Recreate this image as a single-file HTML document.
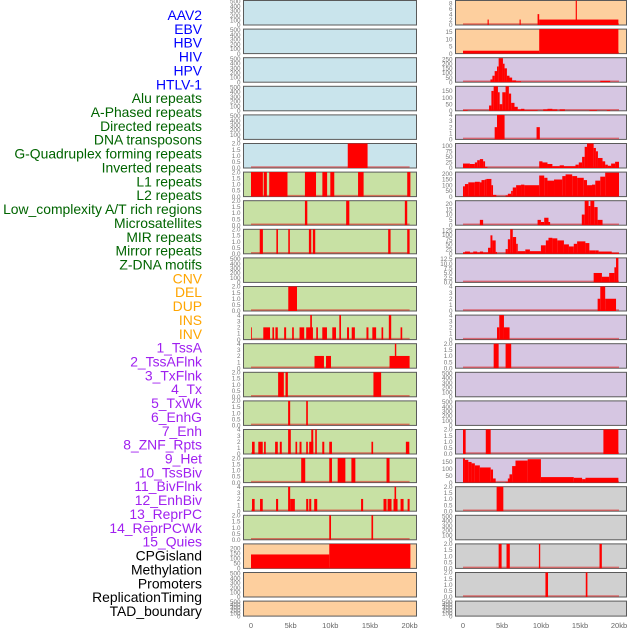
<!DOCTYPE html>
<html><head><meta charset="utf-8"><style>
html,body{margin:0;padding:0;background:#fff;width:630px;height:630px;overflow:hidden}
svg{display:block;font-family:"Liberation Sans",sans-serif}
</style></head><body>
<svg id="chart" width="630" height="630" viewBox="0 0 630 630"></svg>
<script>
// ---- data ----
const trackLabels = ["AAV2","EBV","HBV","HIV","HPV","HTLV-1","Alu repeats","A-Phased repeats","Directed repeats","DNA transposons","G-Quadruplex forming repeats","Inverted repeats","L1 repeats","L2 repeats","Low_complexity A/T rich regions","Microsatellites","MIR repeats","Mirror repeats","Z-DNA motifs","CNV","DEL","DUP","INS","INV","1_TssA","2_TssAFlnk","3_TxFlnk","4_Tx","5_TxWk","6_EnhG","7_Enh","8_ZNF_Rpts","9_Het","10_TssBiv","11_BivFlnk","12_EnhBiv","13_ReprPC","14_ReprPCWk","15_Quies","CPGisland","Methylation","Promoters","ReplicationTiming","TAD_boundary"];
const labelGroups = [0,0,0,0,0,0,1,1,1,1,1,1,1,1,1,1,1,1,1,2,2,2,2,2,3,3,3,3,3,3,3,3,3,3,3,3,3,3,3,4,4,4,4,4];
const xTicks = [0,5,10,15,20];
const xTickLabels = ["0","5kb","10kb","15kb","20kb"];
const midYMax = [520,520,520,520,520,2,2,2,2,520,2,4,4,2,2,4,2,4,2,246,520,520];
const rightYMax = [9,17,265,185,4,110,215,23,130,13,4,4,2,520,520,2,178,2,520,2,2,520];
const midBg = ["b","b","b","b","b","b","g","g","g","g","g","g","g","g","g","g","g","g","g","o","o","o"];
const rightBg = ["o","o","p","p","p","p","p","p","p","p","p","p","p","p","p","p","p","g2","g2","g2","g2","g2"];
const midSegs = [
 [],[],[],[],[],
 [[12.2,14.7,2]],
 [[0,1.5,2],[1.6,2.0,2],[2.3,4.6,2],[6.8,8.2,2],[9.0,9.6,2],[10.0,10.5,2],[13.5,14.2,2],[19.7,20.1,2]],
 [[6.8,7.1,2],[12.0,12.4,2],[19.4,19.7,2]],
 [[1.1,1.5,2],[3.2,3.4,2],[4.7,4.9,2],[7.3,7.6,2],[7.8,8.1,2],[17.3,17.6,2],[19.7,20.0,2]],
 [],
 [[4.7,5.8,2]],
 [[0,0.08,2],[1.55,2.4,2],[2.7,2.91,2],[3.08,3.38,2],[4.18,4.43,2],[5.19,5.4,2],[6.12,6.71,2],[6.96,7.81,2],[7.47,7.68,4],[8.23,8.44,2],[8.99,9.58,2],[10.25,10.72,2],[11.14,11.35,4],[12.11,12.36,2],[12.7,13.1,2],[14.56,14.81,2],[15.3,15.78,2],[16.46,16.67,2],[17.38,17.68,4],[18.86,19.07,2]],
 [[8.01,9.2,2],[9.46,10.09,2],[17.47,20.0,2],[18.14,18.32,4]],
 [[3.42,4.14,2],[4.35,4.65,2],[15.44,16.41,2]],
 [[4.68,4.94,2],[6.96,7.17,2]],
 [[0.13,0.46,2],[0.92,1.48,2],[1.65,1.86,2],[3.04,3.38,2],[3.63,3.88,2],[4.68,5.02,4],[5.61,5.82,2],[6.12,6.37,2],[6.96,7.17,2],[7.34,7.85,2],[7.6,7.85,4],[8.1,8.3,4],[8.99,9.24,2],[9.87,10.21,2],[15.19,15.4,2],[19.53,19.96,2]],
 [[6.33,6.84,2],[9.87,10.21,2],[10.93,11.9,2],[12.66,13.16,2],[17.09,17.47,2]],
 [[0.13,0.46,2],[1.14,1.48,2],[3.16,3.42,2],[4.68,4.94,4],[4.94,5.53,2],[6.96,7.22,2],[7.34,7.6,2],[7.97,8.35,2],[13.88,14.14,2],[16.71,17.09,2],[17.22,17.72,2],[17.97,18.48,2],[18.1,18.3,4],[18.86,19.24,2],[19.75,20.0,2]],
 [[9.87,10.09,2],[15.19,15.4,2]],
 [[0,9.87,140],[9.87,20.1,260]],
 [],[]
];
const rightSegs = [
 [[3.15,3.3,2],[7.25,7.4,2],[9.56,9.77,4],[9.77,19.92,2],[14.45,14.6,9]],
 [[0,9.77,2],[9.77,19.92,17]],
 [[3.52,3.77,30],[3.77,4.06,70],[4.06,4.36,120],[4.36,4.57,170],[4.57,5.12,260],[5.12,5.33,200],[5.33,5.63,150],[5.63,5.96,70],[5.96,6.3,50],[6.3,6.81,20],[6.81,7.44,10],[17.6,18.86,15]],
 [[0,0.6,5],[3.34,3.64,40],[3.64,3.93,150],[3.93,4.48,200],[4.48,4.7,140],[4.7,5.04,50],[5.04,5.46,140],[5.46,5.88,200],[5.88,6.17,130],[6.17,6.6,60],[6.6,7.02,30],[7.02,7.44,10],[7.44,7.87,15],[7.87,9.56,5],[10.28,10.83,10],[10.83,11.46,15],[11.46,12.09,10],[12.39,13.07,10],[16.2,17.17,5],[18.44,18.86,5]],
 [[4.06,4.36,2],[4.36,5.33,4],[9.43,9.85,2]],
 [[0,0.89,20],[0.89,1.52,18],[1.52,1.82,25],[1.82,2.16,35],[2.16,2.58,40],[2.58,2.83,30],[2.83,3.13,5],[9.77,10.19,30],[10.19,10.83,25],[10.83,11.46,18],[11.46,12.39,8],[12.39,12.94,12],[12.94,14.42,8],[14.42,14.84,15],[14.84,15.27,25],[15.27,15.6,50],[15.6,15.9,95],[15.9,16.75,110],[16.75,17.04,90],[17.04,17.3,75],[17.3,17.89,45],[17.89,18.23,30],[18.23,18.57,15],[18.57,18.99,10],[18.99,19.5,20],[19.5,20,28]],
 [[0,0.25,90],[0.25,0.68,110],[0.68,1.52,125],[1.52,2.16,130],[2.16,2.37,125],[2.37,2.79,145],[2.79,3.0,150],[3.0,3.64,155],[3.64,3.85,100],[3.85,4.27,15],[5.46,5.75,10],[5.75,6.17,25],[6.17,6.38,50],[6.38,6.81,80],[6.81,7.44,100],[7.44,7.87,105],[7.87,9.77,100],[9.77,10.41,185],[10.41,10.83,165],[10.83,11.67,140],[11.67,12.73,150],[12.73,13.15,180],[13.15,14.0,195],[14.0,14.63,180],[14.63,15.48,165],[15.48,15.9,145],[15.9,16.54,100],[16.54,16.96,105],[16.96,17.6,140],[17.6,18.23,175],[18.23,20,210]],
 [[2.16,2.58,5],[9.56,9.99,5],[9.99,10.41,3],[10.41,10.96,7],[10.96,11.17,3],[15.23,15.6,10],[15.6,16.1,23],[16.1,16.33,18],[16.33,16.83,23],[16.83,17.26,17],[17.26,17.89,5]],
 [[0,0.25,7],[0.25,0.89,12],[0.89,1.31,5],[1.31,1.82,12],[1.82,2.16,7],[2.16,2.58,12],[2.58,3.21,7],[3.21,3.52,32],[3.52,3.77,98],[3.77,4.19,71],[4.19,4.36,10],[5.46,5.75,25],[5.75,6.05,77],[6.05,6.38,130],[6.38,6.81,89],[6.81,7.02,53],[7.02,7.99,14],[7.99,8.58,23],[8.58,9.99,14],[9.99,10.62,45],[10.62,10.96,71],[10.96,11.46,85],[11.46,12.09,82],[12.09,12.94,71],[12.94,13.58,50],[13.58,14.2,39],[14.2,14.63,53],[14.63,15.69,66],[15.69,16.2,57],[16.2,16.96,18],[16.96,17.39,18],[17.39,19.07,12],[19.07,20,5]],
 [[16.75,17.81,5],[17.81,18.74,3],[18.74,19.41,5],[19.41,19.62,8],[19.62,19.92,13]],
 [[17.26,17.6,2],[17.6,18.23,4],[18.23,19.62,2]],
 [[4.36,4.65,2],[4.65,5.25,4],[5.25,5.97,2]],
 [[3.93,4.57,2],[5.46,6.18,2]],
 [],[],
 [[0,0.34,2],[2.92,3.55,2],[18.0,19.92,2]],
 [[0,0.25,175],[0.25,0.68,165],[0.68,1.1,150],[1.1,1.52,140],[1.52,2.16,125],[2.16,3.55,110],[3.55,3.85,95],[3.85,4.19,30],[5.46,5.75,5],[5.75,5.96,30],[5.96,6.3,60],[6.3,6.73,120],[6.73,8.29,160],[8.29,9.99,170],[9.99,14.2,40],[14.2,15.27,35],[15.27,15.7,25],[15.7,19.92,35]],
 [[4.31,5.17,2]],
 [],
 [[4.57,4.95,2],[5.58,6.0,2],[9.73,9.9,2],[17.5,17.8,2]],
 [[10.57,10.9,2],[15.74,15.95,2]],
 []
];
// ---- rendering ----
const NS = "http://www.w3.org/2000/svg";
const svg = document.getElementById("chart");
const bgColors = {b:"#c9e4ec", g:"#c8e1a4", o:"#fdcf9e", p:"#d6c6e2", g2:"#d0d0d0"};
const labelColors = ["#0000ff","#006400","#ffa500","#a020f0","#000000"];
function mk(tag, attrs){const e=document.createElementNS(NS,tag);for(const k in attrs)e.setAttribute(k,attrs[k]);svg.appendChild(e);return e;}
function tickList(ymax){
  if(ymax>=500) return [0,100,200,300,400,500];
  if(ymax===2) return [0,0.5,1,1.5,2];
  if(ymax===4) return [0,1,2,3,4];
  if(ymax===9) return [0,2,4,6,8];
  if(ymax===17) return [0,5,10,15];
  if(ymax===23) return [0,5,10,15,20];
  if(ymax===13) return [0,2.5,5,7.5,10,12.5];
  if(ymax===110) return [0,25,50,75,100];
  if(ymax===130) return [0,25,50,75,100,125];
  if(ymax===265) return [0,50,100,150,200,250];
  if(ymax===185||ymax===178) return [0,50,100,150];
  return [0,50,100,150,200];
}
function fmt(v,ymax){ if(ymax===2) return v.toFixed(1); if(ymax===13) return v.toFixed(1); return String(v); }
// labels
trackLabels.forEach((t,i)=>{
  const e=mk("text",{x:202,y:20+i*13.86,"text-anchor":"end","font-size":"13.9",fill:labelColors[labelGroups[i]]});
  e.textContent=t;
  
  
});
function panel(col,row,ymax,bg,segs){
  const x0 = col===0?243.5:455.5, w = col===0?173:171;
  const kb0 = col===0?251:463, kbs = col===0?7.93:7.8;
  const top = 0.5+row*28.6, h = row===21?15:24.5, bot = top+h;
  const X = kb=>kb0+kb*kbs;
  const Y = v=>bot - Math.min(v,ymax)/ymax*h;
  const r=mk("rect",{x:x0,y:top,width:w,height:h,fill:bgColors[bg],stroke:"#5a5a5a","stroke-width":1});
  
  
  if(segs.length){
    const bl=mk("line",{x1:X(0),x2:X(20),y1:bot-1,y2:bot-1,stroke:"rgba(220,30,30,0.55)","stroke-width":1.5});
    
    
  }
  segs.forEach(s=>{
    const a=X(s[0]), b=X(s[1]), y=Y(s[2]);
    const bar=mk("rect",{x:a,y:y,width:Math.max(0.8,b-a),height:bot-y,fill:"#ff0000"});
    
    
  });
  tickList(ymax).forEach(v=>{
    const t=mk("text",{x:x0-3,y:Y(v)+2.2,"text-anchor":"end","font-size":"6.3",fill:"#777"});
    t.textContent=fmt(v,ymax);
    
    
  });
}
for(let r=0;r<22;r++){
  panel(0,r,midYMax[r],midBg[r],midSegs[r]);
  panel(1,r,rightYMax[r],rightBg[r],rightSegs[r]);
}
[[251,7.93],[463,7.8]].forEach(([k0,ks],c)=>{
  xTicks.forEach((v,i)=>{
    const t=mk("text",{x:k0+v*ks,y:628,"text-anchor":"middle","font-size":"7.5",fill:"#666"});
    t.textContent=xTickLabels[i];
    
    
  });
});
</script>
</body></html>
